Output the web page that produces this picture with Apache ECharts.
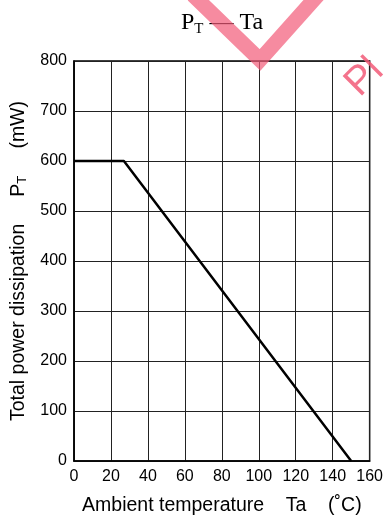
<!DOCTYPE html>
<html><head><meta charset="utf-8">
<script src="https://cdn.jsdelivr.net/npm/echarts@6/dist/echarts.min.js"></script>
<style>html,body{margin:0;padding:0;background:#fff}#c{width:386px;height:521px}</style>
</head><body><div id="c"></div>
<script>
const xTicks = [0,20,40,60,80,100,120,140,160];
const yTicks = [0,100,200,300,400,500,600,700,800];
const tempTa = [0, 27, 150];
const powerPT = [600, 600, 0];

const chart = echarts.init(document.getElementById('c'), null, {renderer:'canvas'});
const sans = 'Liberation Sans, Arial, sans-serif';
chart.setOption({
  animation:false,
  backgroundColor:'#fff',
  grid:{left:74,right:14,top:61,bottom:57,show:true,borderColor:'#000',borderWidth:1.5,backgroundColor:'transparent'},
  xAxis:{type:'value',min:xTicks[0],max:xTicks[xTicks.length-1],interval:20,
    name:'Ambient temperature    Ta    (˚C)',nameLocation:'middle',nameGap:35,
    nameTextStyle:{fontFamily:sans,fontSize:19.5,color:'#000'},
    axisLine:{show:true,lineStyle:{color:'#000',width:1.5}},
    axisTick:{show:false},
    axisLabel:{fontFamily:sans,fontSize:16,color:'#000',margin:8},
    splitLine:{show:true,lineStyle:{color:'#222',width:1}}},
  yAxis:{type:'value',min:yTicks[0],max:yTicks[yTicks.length-1],interval:100,
    name:'Total power dissipation     P{s|T}     (mW)',nameLocation:'middle',nameGap:44,
    nameTextStyle:{fontFamily:sans,fontSize:19.5,color:'#000',rich:{s:{fontFamily:sans,fontSize:13,color:'#000',verticalAlign:'bottom',padding:[9,0,0,0]}}},
    axisLine:{show:true,lineStyle:{color:'#000',width:1.5}},
    axisTick:{show:false},
    axisLabel:{fontFamily:sans,fontSize:16,color:'#000',margin:7},
    splitLine:{show:true,lineStyle:{color:'#222',width:1}}},
  series:[{type:'line',data:tempTa.map((t,i)=>[t,powerPT[i]]),symbol:'none',
    lineStyle:{color:'#000',width:2.5},z:5}],
  graphic:[
    {type:'text',x:222,y:23,z:10,style:{text:'P{s|T} — Ta',fill:'#000',
      font:'24px "Liberation Serif", serif',align:'center',verticalAlign:'middle',
      rich:{s:{fontFamily:'Liberation Serif',fontSize:15,fill:'#000',padding:[13,0,0,0]}}}},
    {type:'polyline',z:100,shape:{points:[[193,-5],[260,60],[318,-5]]},
      style:{stroke:'rgba(242,90,120,0.7)',lineWidth:15,fill:null,lineJoin:'miter'}},
    {type:'text',x:352,y:90,rotation:Math.PI/4,z:100,
      style:{text:'Pl',fill:'rgba(242,90,120,0.85)',font:'300 40px "Liberation Sans", sans-serif',align:'left',verticalAlign:'middle'}}
  ]
});
</script></body></html>
